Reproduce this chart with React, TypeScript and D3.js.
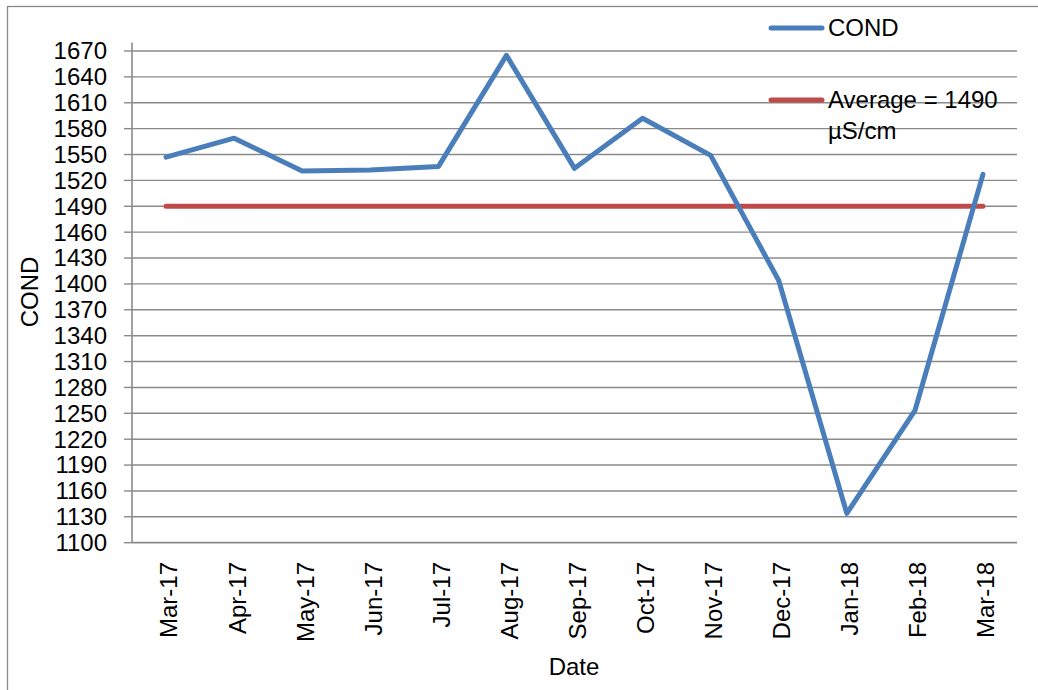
import React from "react"
import * as d3 from "d3"

const months = ["Mar-17", "Apr-17", "May-17", "Jun-17", "Jul-17", "Aug-17", "Sep-17", "Oct-17", "Nov-17", "Dec-17", "Jan-18", "Feb-18", "Mar-18"]
const cond = [1547, 1569, 1531, 1532, 1536, 1665, 1534, 1592, 1549, 1404, 1134, 1253, 1527]
const average = 1490
const yTicks = d3.range(1100, 1671, 30)

const font = "'Liberation Sans', Arial, sans-serif"
const blue = "#4A7EBB"
const red = "#BE4B48"
const grid = "#8A8A8A"

const App = () => {
    const width = 1038, height = 690
    const left = 132, right = 1017, top = 42.4, bottom = 542.7

    const x = d3.scaleBand<string>().domain(months).range([left, right])
    const cx = (m: string) => (x(m) as number) + x.bandwidth() / 2
    const y = d3.scaleLinear().domain([1100, 1680]).range([bottom, top])

    const line = d3.line<number>()
        .x((d, i) => cx(months[i]))
        .y(d => y(d))

    const avgLine = d3.line<number>()
        .x((d, i) => cx(months[i]))
        .y(d => y(d))

    return (
        <svg width={width} height={height} style={{position: "absolute", left: 0, top: 0, background: "#fff"}}
            fontFamily={font}>
            <rect x={7.5} y={6.5} width={1100} height={1000} fill="none" stroke={grid} strokeWidth={1.3} />

            {yTicks.map(t => (
                <g key={t}>
                    {t > 1100 && <line x1={left} x2={right} y1={y(t)} y2={y(t)} stroke={grid} strokeWidth={1.4} />}
                    <line x1={left - 8} x2={left} y1={y(t)} y2={y(t)} stroke={grid} strokeWidth={1.4} />
                    <text x={107} y={y(t)} dy="0.35em" textAnchor="end" fontSize={24} fill="#000">{t}</text>
                </g>
            ))}

            <line x1={left} x2={left} y1={top} y2={bottom} stroke={grid} strokeWidth={1.6} />
            <line x1={left} x2={right} y1={bottom} y2={bottom} stroke={grid} strokeWidth={1.8} />

            {months.map(m => (
                <text key={m} transform={`translate(${cx(m) + 3},${562}) rotate(-90)`} dy="0.35em"
                    textAnchor="end" fontSize={24} fill="#000">{m}</text>
            ))}

            <path d={avgLine(months.map(() => average)) || ""} fill="none" stroke={red} strokeWidth={5} strokeLinecap="round" />
            <path d={line(cond) || ""} fill="none" stroke={blue} strokeWidth={5} strokeLinecap="round" strokeLinejoin="round" />

            <text transform="translate(30,292) rotate(-90)" dy="0.35em" textAnchor="middle" fontSize={24} fill="#000">COND</text>
            <text x={574} y={675} textAnchor="middle" fontSize={24} fill="#000">Date</text>

            <line x1={771} x2={822} y1={28} y2={28} stroke={blue} strokeWidth={5} strokeLinecap="round" />
            <text x={828} y={36} fontSize={24} fill="#000">COND</text>
            <line x1={771} x2={822} y1={100} y2={100} stroke={red} strokeWidth={5} strokeLinecap="round" />
            <text x={828} y={108} fontSize={24} fill="#000">Average = 1490</text>
            <text x={828} y={139} fontSize={24} fill="#000">µS/cm</text>
        </svg>
    )
}

export default App
